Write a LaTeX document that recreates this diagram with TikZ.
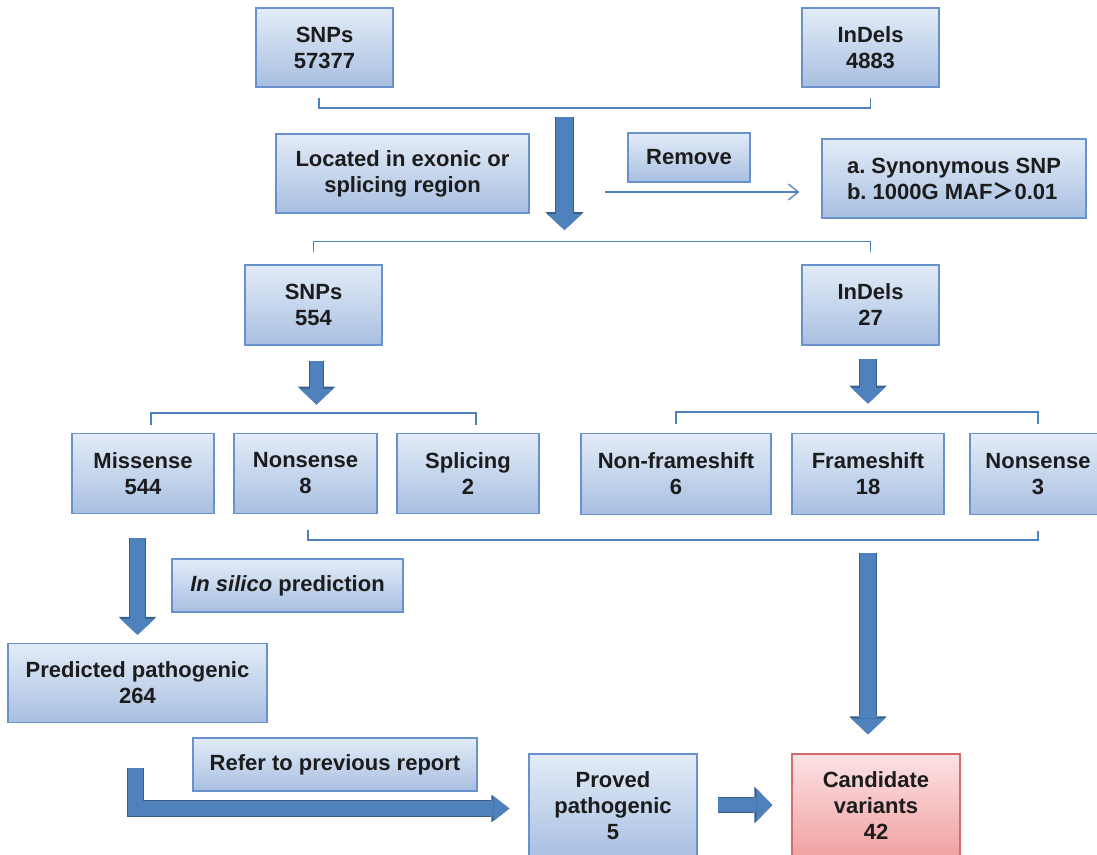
\documentclass[tikz,border=0pt]{standalone}
\usepackage{fontspec}
\setmainfont{Liberation Sans}
\newfontfamily\cjk{Noto Sans CJK SC}
\usetikzlibrary{arrows.meta,calc}
\definecolor{accblue}{RGB}{79,129,189}
\definecolor{accdark}{RGB}{56,93,138}
\definecolor{boxline}{RGB}{105,145,205}
\definecolor{boxtop}{RGB}{227,236,248}
\definecolor{boxbot}{RGB}{168,191,225}
\definecolor{redline}{RGB}{212,108,108}
\definecolor{redtop}{RGB}{251,226,228}
\definecolor{redbot}{RGB}{242,160,160}
\definecolor{ink}{RGB}{28,28,28}
\frenchspacing

\begin{document}
\begin{tikzpicture}[
  x=1pt, y=-1pt,
  stage/.style={rectangle, draw=boxline, line width=1.2pt, top color=boxtop, bottom color=boxbot,
    minimum height=79, align=center, inner sep=2pt, text=ink, font=\fontsize{22}{26}\selectfont\bfseries},
  hit/.style={stage, draw=redline, top color=redtop, bottom color=redbot},
  brace/.style={draw=accblue, line width=1.8pt},
  thin arrow/.style={draw=accblue, line width=1.3pt, -{Straight Barb[length=10pt,width=16pt]}},
  fat/.style args={#1/#2}{draw=accblue, line width=#1, line cap=butt,
    -{Triangle[length=16pt,width=#2,line width=0pt]},
    preaction={draw=accdark, line width=#1+2.4pt, -{Triangle[length=18pt,width=#2,scale width=1.1,line width=0pt]}}}]

  \useasboundingbox (0,0) rectangle (1097,854);

  % raw calls
  \node[stage, minimum width=137] (snpA)   at (324.5,47.5) {SNPs\\57377};
  \node[stage, minimum width=137] (indelA) at (870.5,47.5) {InDels\\4883};
  \draw[brace] ($(snpA.south)+(-5.5,10)$) -- ++(0,10) -| ($(indelA.south)+(0,10)$);

  % filtering step
  \coordinate (downA) at (564.5,117);
  \coordinate (downB) at (564.5,230);
  \draw[fat=17pt/35pt] (downA) -- (downB);
  \node[stage, minimum width=253] (located) at (402.5,173.5) {Located in exonic or\\splicing region};
  \node[stage, minimum width=122, minimum height=49] (remove) at (689,157.5) {Remove};
  \node[stage, minimum width=264, align=left] (filter) at (954,178.5)
    {a. Synonymous SNP\\b. 1000G MAF{\cjk ＞}0.01};
  \draw[thin arrow] ($(filter.west)+(-216,13.5)$) -- ($(filter.west)+(-22,13.5)$);

  % filtered calls
  \node[stage, minimum width=137, minimum height=80] (snpB)   at (313.5,305) {SNPs\\554};
  \node[stage, minimum width=137, minimum height=80] (indelB) at (870.5,305) {InDels\\27};
  \draw[brace] ($(snpB.north)+(0,-12)$) -- ++(0,-11) -| ($(indelB.north)+(0,-12)$);
  \draw[fat=13pt/34pt] ($(snpB.south)+(3,15)$) -- ++(0,44);
  \draw[fat=16pt/34pt] ($(indelB.south)+(-2.5,13)$) -- ++(0,45);

  % SNP classes
  \node[stage, minimum width=142, minimum height=80] (missense)  at (143,473.5)   {Missense\\544};
  \node[stage, minimum width=143, minimum height=80] (nonsenseA) at (305.5,473.5) {Nonsense\\8};
  \node[stage, minimum width=142, minimum height=80] (splicing)  at (468,473.5)   {Splicing\\2};
  \draw[brace] ($(missense.north)+(8,-8)$) -- ++(0,-12) -| ($(splicing.north)+(8,-8)$);

  % InDel classes
  \node[stage, minimum width=190, minimum height=81] (nonframe)   at (676,474)  {Non-frameshift\\6};
  \node[stage, minimum width=152, minimum height=81] (frameshift) at (868,474)  {Frameshift\\18};
  \node[stage, minimum width=136, minimum height=81] (nonsenseB)  at (1038,474) {Nonsense\\3};
  \draw[brace] ($(nonframe.north)+(0,-9)$) -- ++(0,-12) -| ($(nonsenseB.north)+(0,-9)$);
  \draw[brace] ($(nonsenseA.south)+(2.5,16)$) -- ++(0,10) -| ($(nonsenseB.south)+(0,16)$);

  % missense path
  \node[stage, minimum width=231, minimum height=53] (insilico) at (287.5,585.5) {\textit{In silico} prediction};
  \node[stage, minimum width=259] (predicted) at (137.5,683) {Predicted pathogenic\\264};
  \draw[fat=15pt/34pt] ($(missense.south)+(-5.5,23.5)$) -- ($(predicted.north)+(0,-8)$);
  \node[stage, minimum width=284, minimum height=53] (refer) at (335,764.5) {Refer to previous report};
  \node[stage, minimum width=168, minimum height=104] (proved) at (613,806) {Proved\\pathogenic\\5};
  \draw[fat=15pt/25pt] ($(predicted.south)+(-2,45)$) |- ($(proved.west)+(-19,2.5)$);

  % result
  \node[hit, minimum width=168, minimum height=104] (candidate) at (876,806) {Candidate\\variants\\42};
  \draw[fat=16pt/34pt] ($(frameshift.south)+(0,37.5)$) -- ($(candidate.north)+(-8,-19)$);
  \draw[fat=14pt/33pt] ($(proved.east)+(20,-1)$) -- ($(candidate.west)+(-19,-1)$);
\end{tikzpicture}
\end{document}
